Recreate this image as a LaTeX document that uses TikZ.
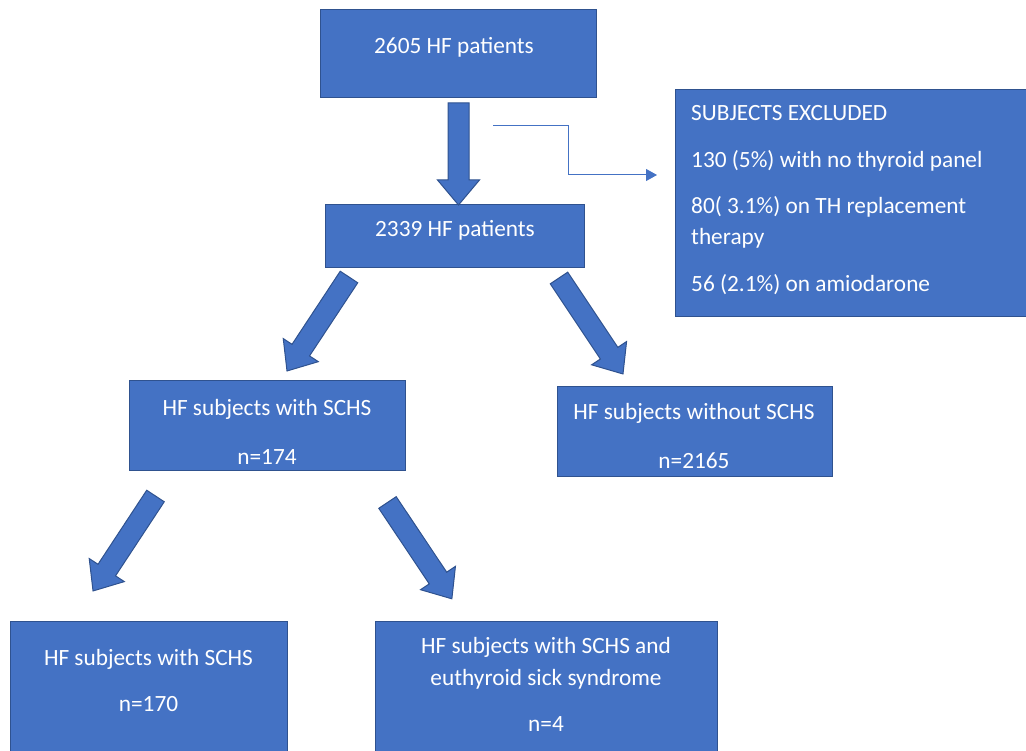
\documentclass[tikz,border=0pt]{standalone}
\usepackage{fontspec}
\setmainfont{Carlito}
\usetikzlibrary{calc,arrows.meta}
\definecolor{boxfill}{HTML}{4472C4}
\definecolor{boxedge}{HTML}{2F528F}
\tikzset{
  box/.style={draw=boxedge, fill=boxfill, line width=1pt, inner sep=0pt},
  lbl/.style={text=white, inner sep=0pt, font=\fontsize{23.3}{28}\selectfont},
  barrow/.style={draw=boxedge, fill=boxfill, line width=1pt, line join=miter},
  thin/.style={draw=boxfill, line width=1pt}
}
\newcommand\blockarrow[2]{%
  \pgfpointdiff{\pgfpointanchor{#1}{center}}{\pgfpointanchor{#2}{center}}%
  \pgfgetlastxy{\badx}{\bady}%
  \pgfmathsetmacro\baang{atan2(\bady,\badx)}%
  \pgfmathsetmacro\balen{veclen(\badx,\bady)}%
  \begin{scope}[shift={(#1)}, rotate=\baang]
    \filldraw[barrow] (0pt,-10.5pt) -- (\balen pt-25pt,-10.5pt) -- (\balen pt-25pt,-21pt)
      -- (\balen pt,0pt) -- (\balen pt-25pt,21pt) -- (\balen pt-25pt,10.5pt) -- (0pt,10.5pt) -- cycle;
  \end{scope}}
\begin{document}
\begin{tikzpicture}[x=1pt,y=-1pt]
\useasboundingbox (0,0) rectangle (1026,751);
% boxes
\node[box, minimum width=276pt, minimum height=88pt] (b1) at (458,54) {};
\node[box, minimum width=259pt, minimum height=63pt] (b2) at (454.5,236.5) {};
\node[box, minimum width=351pt, minimum height=227pt] (ex) at (850.5,203.5) {};
\node[box, minimum width=276pt, minimum height=89pt] (b3) at (267,425.5) {};
\node[box, minimum width=275pt, minimum height=89pt] (b4) at (694.5,431.5) {};
\node[box, minimum width=277pt, minimum height=132pt] (b5) at (148.5,687) {};
\node[box, minimum width=342pt, minimum height=132pt] (b6) at (546,687) {};
% texts
\node[lbl, anchor=base] (t1) at (454,54) {2605 HF patients};
\node[lbl, anchor=base] (t2) at (455,237) {2339 HF patients};
\node[lbl, anchor=base west] (e1) at (691,121) {SUBJECTS EXCLUDED};
\node[lbl, anchor=base west] (e2) at (691,168) {130 (5\%) with no thyroid panel};
\node[lbl, anchor=base west] (e3) at (691,214) {80( 3.1\%) on TH replacement};
\node[lbl, anchor=base west] (e4) at (691,245) {therapy};
\node[lbl, anchor=base west] (e5) at (691,292) {56 (2.1\%) on amiodarone};
\node[lbl, anchor=base] (t3a) at (267,415) {HF subjects with SCHS};
\node[lbl, anchor=base] (t3b) at (267,464) {n=174};
\node[lbl, anchor=base] (t4a) at (694,420) {HF subjects without SCHS};
\node[lbl, anchor=base] (t4b) at (694,468) {n=2165};
\node[lbl, anchor=base] (t5a) at (148.5,665) {HF subjects with SCHS};
\node[lbl, anchor=base] (t5b) at (148.5,711) {n=170};
\node[lbl, anchor=base] (t6a) at (546,653) {HF subjects with SCHS and};
\node[lbl, anchor=base] (t6b) at (546,685) {euthyroid sick syndrome};
\node[lbl, anchor=base] (t6c) at (546,731) {n=4};
% block arrows
\coordinate (a0t) at (458.5,103); \coordinate (a0h) at (458.5,205);
\coordinate (a1t) at (349,277);   \coordinate (a1h) at (287,371);
\coordinate (a2t) at (559,278);   \coordinate (a2h) at (623,374);
\coordinate (a3t) at (155.5,496); \coordinate (a3h) at (93,591);
\coordinate (a4t) at (387.5,502.5); \coordinate (a4h) at (452,599);
\blockarrow{a0t}{a0h}
\blockarrow{a1t}{a1h}
\blockarrow{a2t}{a2h}
\blockarrow{a3t}{a3h}
\blockarrow{a4t}{a4h}
% thin elbow connector
\coordinate (c0) at (493,126);
\coordinate (c1) at (657,175);
\draw[thin, -{Triangle[length=11pt,width=12pt]}] (c0) -- (568,126) |- (c1);
\end{tikzpicture}
\end{document}
